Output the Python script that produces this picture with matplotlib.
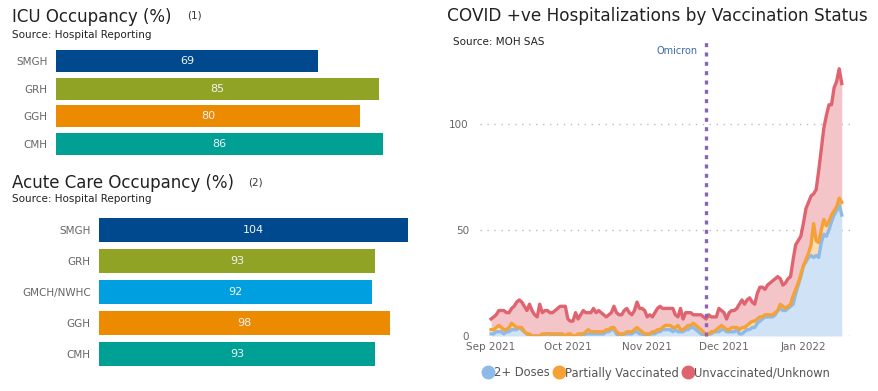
import numpy as np
import pandas as pd
import matplotlib
matplotlib.use("Agg")
import matplotlib.pyplot as plt
import matplotlib.dates as mdates
import matplotlib.transforms as mtrans
from matplotlib.lines import Line2D

# ---- bar chart data ----
icu_sites = ["SMGH", "GRH", "GGH", "CMH"]
icu_pct = [69, 85, 80, 86]
icu_colors = ["#00498f", "#91a325", "#ec8a00", "#00a094"]

acute_sites = ["SMGH", "GRH", "GMCH/NWHC", "GGH", "CMH"]
acute_pct = [104, 93, 92, 98, 93]
acute_colors = ["#00498f", "#91a325", "#009fdf", "#ec8a00", "#00a094"]

# ---- daily hospitalizations, Sep 1 2021 -> Jan 16 2022 ----
start_date = "2021-09-01"
two_doses = [
    1, 1, 2, 2, 2, 1, 2, 2, 3, 3,
    3, 4, 3, 2, 1, 0, 0, 0, 0, 0,
    0, 0, 1, 1, 0, 0, 0, 0, 0, 0,
    0, 0, 0, 0, 0, 0, 0, 1, 1, 1,
    1, 1, 1, 1, 1, 2, 2, 3, 3, 1,
    0, 0, 1, 1, 1, 1, 2, 2, 1, 1,
    0, 0, 1, 1, 1, 2, 2, 3, 3, 3,
    3, 2, 3, 2, 2, 2, 3, 3, 4, 4,
    3, 2, 1, 0, 0, 1, 1, 2, 2, 2,
    3, 3, 2, 2, 2, 2, 3, 1, 1, 2,
    3, 3, 4, 4, 6, 7, 8, 9, 9, 9,
    9, 10, 12, 13, 12, 12, 13, 14, 15, 20,
    24, 28, 33, 35, 37, 38, 37, 38, 37, 44,
    48, 47, 50, 54, 57, 59, 62, 57,
]
partially = [
    2, 2, 2, 3, 2, 2, 1, 2, 3, 2,
    1, 0, 1, 0, 0, 1, 0, 0, 0, 0,
    1, 1, 0, 0, 1, 1, 1, 1, 1, 0,
    1, 1, 0, 0, 1, 1, 1, 1, 2, 1,
    1, 1, 1, 1, 1, 1, 1, 1, 1, 1,
    1, 1, 0, 1, 1, 1, 1, 2, 2, 1,
    1, 1, 0, 1, 1, 1, 1, 1, 2, 2,
    2, 2, 1, 3, 1, 1, 1, 2, 1, 2,
    2, 2, 2, 2, 0, 0, 1, 0, 1, 2,
    2, 1, 1, 1, 2, 2, 1, 2, 3, 2,
    2, 3, 3, 3, 2, 2, 1, 1, 1, 1,
    1, 1, 0, 2, 2, 1, 1, 1, 4, 2,
    1, 1, 0, 1, 2, 5, 16, 7, 7, 6,
    7, 5, 4, 3, 2, 2, 3, 6,
]
unvaccinated = [
    5, 6, 6, 7, 8, 9, 8, 7, 7, 9,
    12, 13, 12, 12, 11, 14, 12, 10, 9, 15,
    10, 11, 11, 10, 10, 11, 12, 13, 13, 14,
    7, 6, 7, 11, 7, 9, 11, 9, 8, 9,
    11, 9, 10, 9, 8, 6, 7, 7, 10, 9,
    9, 9, 11, 11, 9, 8, 9, 12, 10, 11,
    11, 8, 9, 7, 9, 10, 11, 9, 8, 8,
    8, 9, 6, 4, 10, 5, 7, 6, 6, 4,
    5, 6, 7, 7, 8, 9, 7, 7, 6, 9,
    7, 7, 5, 8, 8, 8, 9, 12, 13, 11,
    12, 12, 9, 8, 12, 14, 14, 12, 14, 15,
    16, 16, 16, 12, 10, 12, 13, 13, 17, 21,
    20, 18, 20, 24, 24, 23, 14, 24, 34, 38,
    43, 52, 55, 52, 58, 59, 61, 56,
]
series_names = ["2+ Doses", "Partially Vaccinated", "Unvaccinated/Unknown"]
line_colors = ["#8dbae8", "#f4a236", "#e06470"]
fill_colors = ["#d0e2f5", "#fbdcb4", "#f3c5c9"]
omicron_date = pd.Timestamp("2021-11-24")

dates = pd.date_range(start_date, periods=len(two_doses), freq="D")
stack = np.cumsum(np.array([two_doses, partially, unvaccinated]), axis=0)

W, H = 879, 391
fig = plt.figure(figsize=(W / 100, H / 100), dpi=100)
fig.patch.set_facecolor("white")

def px_axes(left, top, right, bottom):
    return fig.add_axes([left / W, 1 - bottom / H, (right - left) / W, (bottom - top) / H])

title_col = "#222222"
tick_col = "#666666"

def bar_panel(ax, sites, vals, colors, xmax, h):
    y = np.arange(len(sites))
    ax.barh(y, vals, color=colors, height=h)
    ax.set_ylim(len(sites) - 0.5, -0.5)
    ax.set_xlim(0, xmax)
    ax.set_yticks(y)
    ax.set_yticklabels(sites, fontsize=7.5, color=tick_col)
    ax.tick_params(axis="y", length=0, pad=6)
    ax.set_xticks([])
    for s in ax.spines.values():
        s.set_visible(False)
    for yi, v in zip(y, vals):
        ax.text(v / 2, yi, str(v), ha="center", va="center", color="#eef3f8", fontsize=8)

# ICU panel
ax1 = px_axes(56, 47, 400, 158)
bar_panel(ax1, icu_sites, icu_pct, icu_colors, 344 / 3.8, 0.8)
fig.text(12 / W, 1 - 17 / H, "ICU Occupancy (%)", fontsize=12, color=title_col, va="center")
fig.text(187 / W, 1 - 16 / H, "(1)", fontsize=7.5, color="#333333", va="center")
fig.text(12 / W, 1 - 35 / H, "Source: Hospital Reporting", fontsize=7.5, color=title_col, va="center")

# Acute care panel
ax2 = px_axes(99, 215, 420, 369)
bar_panel(ax2, acute_sites, acute_pct, acute_colors, 321 / 2.97, 0.78)
fig.text(12 / W, 1 - 183 / H, "Acute Care Occupancy (%)", fontsize=12, color=title_col, va="center")
fig.text(248 / W, 1 - 183 / H, "(2)", fontsize=7.5, color="#333333", va="center")
fig.text(12 / W, 1 - 199 / H, "Source: Hospital Reporting", fontsize=7.5, color=title_col, va="center")

# Hospitalizations panel
ax3 = px_axes(480, 56, 852, 336)
base = np.zeros(len(dates))
for i in range(3):
    ax3.fill_between(dates, base, stack[i], color=fill_colors[i], lw=0, zorder=1)
    base = stack[i]
for i in range(3):
    ax3.plot(dates, stack[i], color=line_colors[i], lw=2.4, zorder=3 + i,
             solid_joinstyle="round")

ax3.set_xlim(pd.Timestamp("2021-08-27 16:00"), pd.Timestamp("2022-01-20"))
ax3.set_ylim(0, 132)
ax3.set_yticks([0, 50, 100])
ax3.yaxis.grid(True, ls=(0, (1, 4)), color="#bbbbbb", lw=1)
ax3.set_axisbelow(True)
ax3.xaxis.set_major_locator(mdates.MonthLocator())
ax3.xaxis.set_major_formatter(mdates.DateFormatter("%b %Y"))
ax3.tick_params(axis="both", length=0, labelsize=7.5, colors=tick_col)
ax3.tick_params(axis="y", pad=8)
ax3.tick_params(axis="x", pad=4)
for s in ax3.spines.values():
    s.set_visible(False)

ax3.axvline(omicron_date, ymin=0, ymax=1.065, clip_on=False, color="#8a63b5",
            lw=2.4, ls=(0, (1.2, 1.6)), zorder=8)
trans = mtrans.blended_transform_factory(ax3.transData, ax3.transAxes)
ax3.annotate("Omicron", xy=(mdates.date2num(omicron_date), 1.018), xycoords=trans,
             xytext=(-6, 0), textcoords="offset points", ha="right", va="center",
             fontsize=7, color="#3b68a8")

fig.text(657 / W, 1 - 16 / H, "COVID +ve Hospitalizations by Vaccination Status",
         fontsize=12.2, color=title_col, ha="center", va="center")
fig.text(453 / W, 1 - 42 / H, "Source: MOH SAS", fontsize=7.5, color=title_col, va="center")

handles = [Line2D([], [], marker="o", ls="", markersize=9, color=c) for c in line_colors]
leg = fig.legend(handles, series_names, loc="center", bbox_to_anchor=(656 / W, 1 - 373 / H),
                 ncol=3, frameon=False, fontsize=8.3, handletextpad=0.0,
                 columnspacing=0.3, handlelength=1.0)
for t in leg.get_texts():
    t.set_color("#555555")

fig.savefig("out.png", dpi=100)
